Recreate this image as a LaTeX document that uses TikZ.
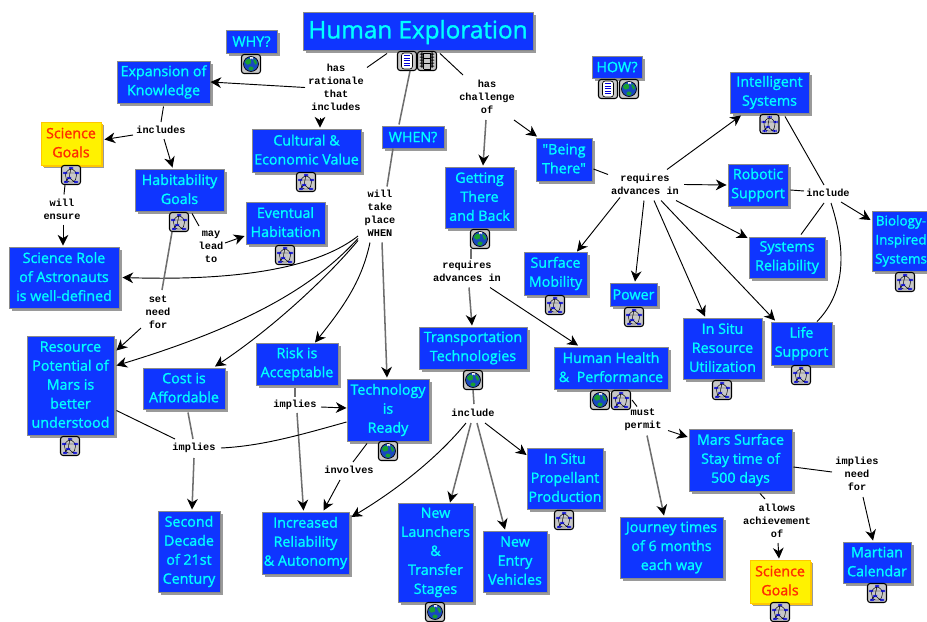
\documentclass[tikz,border=0pt]{standalone}
\usepackage{fontspec}
\setmainfont{Open Sans}[FakeBold=1.2,Ligatures=TeXOff]
\newfontfamily\lblfont{Liberation Mono}[BoldFont={Liberation Mono Bold}]
\usetikzlibrary{calc,shadows,arrows.meta}
\definecolor{cblue}{HTML}{0F35FF}
\definecolor{ccyan}{HTML}{00FFFF}
\definecolor{cedge}{HTML}{8A8A8A}
\definecolor{cshade}{HTML}{9A9A9A}
\definecolor{cgold}{HTML}{FFC800}
\definecolor{cred}{HTML}{FF2A00}
\definecolor{iconbg}{HTML}{C8C8C8}
\definecolor{linkgray}{HTML}{6E6E6E}
\definecolor{earthb}{HTML}{1848C0}
\definecolor{earthg}{HTML}{18A030}
\newcommand{\glyphGlobe}{%
  \fill[earthb] (0,0) circle (7.5);
  \fill[earthg] (-6,-4) -- (-1,-6) -- (1,-2) -- (-2,1) -- (-6,0) -- cycle;
  \fill[earthg] (2,-6) -- (6,-3) -- (6,1) -- (3,0) -- cycle;
  \fill[earthg] (-3,3) -- (2,2) -- (3,6) -- (-2,7) -- cycle;
  \fill[white] (-1,-7) rectangle (2,-5.5);
  \draw[black,line width=.5pt] (0,0) circle (7.5);}
\newcommand{\glyphConcept}{%
  \draw[black,line width=.35pt] (0,-7) -- (-6,-2) -- (-4,7) -- (4,7) -- (6,-2) -- cycle (-6,-2) -- (6,-2) (0,-7) -- (-2,3) -- (4,7) (-2,3) -- (-6,7);
  \foreach \gx/\gy in {0/-7,-6/-2,6/-2,-2/3,-5/7,5/7}{\fill[blue!85!black] (\gx-2,\gy-1.2) rectangle (\gx+2,\gy+1.2);}}
\newcommand{\glyphDoc}{%
  \draw[draw=black,fill=white,line width=.5pt] (-5.5,-8) rectangle (5.5,8);
  \foreach \gy in {-5.5,-3,-.5,2,4.5}{\draw[blue!85!black,line width=.6pt] (-3.5,\gy) -- (3,\gy);}}
\newcommand{\glyphFilm}{%
  \draw[black,line width=.4pt] (-3.5,-8) -- (-3.5,8) (3.5,-8) -- (3.5,8) (-3.5,-8) -- (3.5,-8) (-3.5,-2.5) -- (3.5,-2.5) (-3.5,2.5) -- (3.5,2.5) (-3.5,8) -- (3.5,8);
  \foreach \gy in {-7,-4,-1,2,5}{\fill[black] (-5.6,\gy-.5) rectangle (-4.6,\gy+.5);\fill[black] (4.6,\gy-.5) rectangle (5.6,\gy+.5);}}
\tikzset{
  x=.75pt,y=-.75pt,
  boxat/.style n args={4}{minimum width={(#3-#1)*.75pt},minimum height={(#4-#2)*.75pt},at={({(#1+#3)/2},{(#2+#4)/2})}},
  cbox/.style={rectangle,draw=cedge,line width=.7pt,fill=cblue,text=ccyan,align=center,inner sep=0pt,
    font=\fontsize{10.7}{14.25}\selectfont,
    execute at begin node={\rule{0pt}{.85em}},execute at end node={\rule[-.13em]{0pt}{.13em}},
    general shadow={fill=cshade,draw=none,shadow xshift=2.6pt,shadow yshift=-2.6pt}},
  gbox/.style={cbox,draw=cgold,fill=yellow,text=cred,
    general shadow={fill=cgold,draw=none,shadow xshift=1.8pt,shadow yshift=-1.8pt}},
  titlebox/.style={cbox,font=\fontsize{18.2}{22}\selectfont},
  edgebox/.style={cbox,font=\fontsize{10.1}{14.25}\selectfont},
  lbl/.style={align=center,inner sep=1pt,text=black,font=\lblfont\bfseries\fontsize{7.7}{9.75}\selectfont},
  iconf/.style={rectangle,rounded corners=2pt,draw=black,line width=.8pt,fill=iconbg,minimum size=14.25pt,inner sep=0pt},
  iglobe/.style={iconf,path picture={\begin{scope}[shift={(path picture bounding box.center)},x=.75pt,y=-.75pt]\glyphGlobe\end{scope}}},
  iconcept/.style={iconf,path picture={\begin{scope}[shift={(path picture bounding box.center)},x=.75pt,y=-.75pt]\glyphConcept\end{scope}}},
  idoc/.style={iconf,path picture={\begin{scope}[shift={(path picture bounding box.center)},x=.75pt,y=-.75pt]\glyphDoc\end{scope}}},
  ifilm/.style={iconf,path picture={\begin{scope}[shift={(path picture bounding box.center)},x=.75pt,y=-.75pt]\glyphFilm\end{scope}}},
  lnk/.style={draw=black,line width=.7pt},
  lnkg/.style={draw=linkgray,line width=1.15pt},
  tipped/.style={-{Stealth[length=8pt,width=8pt,inset=2.5pt,color=black]}},
}
\begin{document}
\begin{tikzpicture}
\useasboundingbox (0,0) rectangle (927,621);
% concept boxes
\node[titlebox,boxat={303}{12}{533}{50}] (hu) {Human Exploration};
\node[cbox,boxat={226}{30}{277}{53}] (why) {WHY?};
\node[cbox,boxat={117}{61}{210}{103}] (ex) {Expansion of\\Knowledge};
\node[gbox,boxat={41}{122}{101}{165}] (sgone) {Science\\Goals};
\node[cbox,boxat={252}{129}{361}{172}] (cu) {Cultural \&\\Economic Value};
\node[cbox,boxat={135}{169}{224}{211}] (hb) {Habitability\\Goals};
\node[cbox,boxat={246}{202}{325}{244}] (ev) {Eventual\\Habitation};
\node[cbox,boxat={9}{247}{119}{308}] (sr) {Science Role\\of Astronauts\\is well-defined};
\node[cbox,boxat={27}{336}{114}{435}] (re) {Resource\\Potential of\\Mars is\\better\\understood};
\node[cbox,boxat={143}{368}{225}{409}] (co) {Cost is\\Affordable};
\node[cbox,boxat={256}{343}{338}{385}] (ri) {Risk is\\Acceptable};
\node[cbox,boxat={158}{511}{220}{592}] (se) {Second\\Decade\\of 21st\\Century};
\node[cbox,boxat={262}{512}{349}{574}] (ic) {Increased\\Reliability\\\& Autonomy};
\node[cbox,boxat={347}{379}{429}{441}] (te) {Technology\\is\\Ready};
\node[cbox,boxat={382}{126}{444}{148}] (wh) {WHEN?};
\node[cbox,boxat={445}{167}{514}{228}] (gt) {Getting\\There\\and Back};
\node[cbox,boxat={536}{138}{592}{181}] (bt) {"Being\\There"};
\node[cbox,boxat={592}{56}{642}{78}] (how) {HOW?};
\node[cbox,boxat={730}{72}{809}{113}] (il) {Intelligent\\Systems};
\node[cbox,boxat={728}{164}{788}{206}] (ro) {Robotic\\Support};
\node[cbox,boxat={749}{237}{825}{278}] (sy) {Systems\\Reliability};
\node[edgebox,boxat={872}{211}{930}{271}] (bi) {Biology-\\Inspired\\Systems};
\node[cbox,boxat={524}{252}{587}{295}] (sm) {Surface\\Mobility};
\node[cbox,boxat={610}{283}{657}{306}] (pw) {Power};
\node[cbox,boxat={683}{318}{762}{379}] (is) {In Situ\\Resource\\Utilization};
\node[cbox,boxat={771}{322}{832}{365}] (ls) {Life\\Support};
\node[cbox,boxat={419}{327}{527}{369}] (tr) {Transportation\\Technologies};
\node[cbox,boxat={554}{347}{668}{389}] (hh) {Human Health\\\&\ \ Performance};
\node[cbox,boxat={527}{448}{603}{509}] (pp) {In Situ\\Propellant\\Production};
\node[cbox,boxat={398}{503}{473}{602}] (nl) {New\\Launchers\\\&\\Transfer\\Stages};
\node[cbox,boxat={483}{531}{547}{592}] (ne) {New\\Entry\\Vehicles};
\node[cbox,boxat={620}{517}{723}{578}] (jo) {Journey times\\of 6 months\\each way};
\node[cbox,boxat={689}{429}{792}{491}] (ma) {Mars Surface\\Stay time of\\500 days};
\node[gbox,boxat={750}{560}{810}{603}] (sgtwo) {Science\\Goals};
\node[cbox,boxat={843}{542}{911}{583}] (mc) {Martian\\Calendar};
% icons
\node[idoc] (ihdoc) at (407,61) {};
\node[ifilm] (ihfilm) at (427,61) {};
\node[iglobe] (iwhy) at (251,64) {};
\node[iconcept] (isg) at (71,175) {};
\node[iconcept] (icu) at (306,182) {};
\node[iconcept] (ihb) at (179,222) {};
\node[iconcept] (iev) at (285,255) {};
\node[iconcept] (ire) at (70,446) {};
\node[iglobe] (ite) at (388,451) {};
\node[iglobe] (igt) at (480,239) {};
\node[idoc] (ihowd) at (608,89) {};
\node[iglobe] (ihowg) at (629,89) {};
\node[iconcept] (iil) at (769.5,124) {};
\node[iconcept] (ibi) at (905,282) {};
\node[iconcept] (ism) at (555,305) {};
\node[iconcept] (ipw) at (634,317) {};
\node[iconcept] (iis) at (722,390) {};
\node[iconcept] (ils) at (801,375) {};
\node[iglobe] (itr) at (473,380) {};
\node[iglobe] (ihhg) at (600,400) {};
\node[iconcept] (ihhc) at (621,400) {};
\node[iconcept] (ipp) at (564,520) {};
\node[iglobe] (inl) at (435,612) {};
\node[iconcept] (isgt) at (780,612) {};
\node[iconcept] (imc) at (877,593) {};
% link labels
\node[lbl] (lrat) at (336,87.5) {has\\rationale\\that\\includes};
\node[lbl] (lchal) at (487,97) {has\\challenge\\of};
\node[lbl] (linc) at (161,130) {includes};
\node[lbl] (lens) at (62,209.5) {will\\ensure};
\node[lbl] (lmay) at (211,247) {may\\lead\\to};
\node[lbl] (lset) at (158,312) {set\\need\\for};
\node[lbl] (lwill) at (380,213.5) {will\\take\\place\\WHEN};
\node[lbl] (lreqa) at (467,271.5) {requires\\advances in};
\node[lbl] (lreqb) at (645,184.5) {requires\\advances in};
\node[lbl] (linca) at (828,193) {include};
\node[lbl] (lrisk) at (295,405) {implies};
\node[lbl] (limp) at (194,448) {implies};
\node[lbl] (linv) at (349,470) {involves};
\node[lbl] (lincb) at (473,413) {include};
\node[lbl] (lmust) at (643,419.5) {must\\permit};
\node[lbl] (lneed) at (857,474) {implies\\need\\for};
\node[lbl] (lall) at (777,521) {allows\\achievement\\of};
% connectors
\draw[lnk] ($(hu.south)+(-31,3)$) -- ($(lrat)+(31,-20)$);
\draw[lnk,tipped] ($(lrat)+(-31,0)$) -- (ex.east);
\draw[lnk,tipped] ($(lrat)+(-16,30)$) -- ($(cu.north)+(13.5,-1)$);
\draw[lnk] ($(hu.south)+(22,3)$) -- ($(lchal)+(-24,-22)$);
\draw[lnkg,tipped] ($(lchal)+(-1,23)$) -- ($(gt.north)+(3.5,-1)$);
\draw[lnk,tipped] ($(lchal)+(27,23)$) -- ($(bt.north)+(-27,-1)$);
\draw[lnkg] ($(ihdoc.south)+(3,0)$) -- ($(wh.north)+(-14,-1)$);
\draw[lnkg] ($(wh.south)+(-20,0)$) -- ($(lwill)+(7,-27)$);
\draw[lnk,tipped] ($(lwill)+(-22,22.5)$) .. controls (330,258) and (270,282) .. ($(sr.east)+(3,0)$);
\draw[lnk,tipped] ($(lwill)+(-22,25)$) .. controls (320,280) and (260,322) .. ($(re.east)+(2,-20)$);
\draw[lnk,tipped] ($(lwill)+(-22,27)$) .. controls (325,280) and (270,330) .. ($(co.north)+(31,-1)$);
\draw[lnk,tipped] ($(lwill)+(-10,29)$) .. controls (362,280) and (345,305) .. ($(ri.north)+(18,0)$);
\draw[lnkg,tipped] ($(lwill)+(2,29)$) -- ($(te.north)+(-1,-1)$);
\draw[lnk] ($(ex.south)+(0,3)$) -- ($(linc)+(0,-8)$);
\draw[lnk,tipped] ($(linc)+(-28,5)$) -- ($(sgone.east)+(3,-4)$);
\draw[lnk,tipped] ($(linc)+(3,9)$) -- ($(hb.north)+(-7,-1)$);
\draw[lnk] ($(isg.south)+(-6,0)$) -- ($(lens)+(2,-15)$);
\draw[lnk,tipped] ($(lens)+(1,15)$) -- ($(sr.north)+(-1,-1)$);
\draw[lnkg] ($(ihb.south)+(-7,0)$) -- ($(lset)+(4,-22)$);
\draw[lnk,tipped] ($(lset)+(-17,16)$) -- ($(re.east)+(2,-35)$);
\draw[lnk] ($(hb.south)+(12.5,2)$) -- ($(lmay)+(-12,-21)$);
\draw[lnk,tipped] ($(lmay)+(14,-4)$) -- ($(ev.west)+(-1,13)$);
\draw[lnkg] ($(ri.south)+(-2,3)$) -- ($(lrisk)+(0,-8)$);
\draw[lnk,tipped] ($(lrisk)+(26,2)$) -- ($(te.west)+(0,-2)$);
\draw[lnkg,tipped] ($(lrisk)+(2,8)$) -- ($(ic.north)+(-2,-1)$);
\draw[lnkg] ($(co.south)+(4,3)$) -- ($(limp)+(-1,-9)$);
\draw[lnk] ($(re.east)+(2,25)$) -- ($(limp)+(-19,-9)$);
\draw[lnk] ($(te.west)+(0,12)$) .. controls (300,435) and (262,446) .. ($(limp)+(27,0)$);
\draw[lnkg,tipped] ($(limp)+(0,10)$) -- ($(se.north)+(3,-1)$);
\draw[lnk] ($(te.south)+(-21,2)$) -- ($(linv)+(4,-8)$);
\draw[lnk,tipped] ($(linv)+(-9,10)$) -- ($(ic.north)+(18,-1)$);
\draw[lnkg] ($(igt.south)+(-9,0)$) -- ($(lreqa)+(4,-13)$);
\draw[lnkg,tipped] ($(lreqa)+(2,16)$) -- ($(tr.north)+(-1,-1)$);
\draw[lnk,tipped] ($(lreqa)+(23,16)$) -- ($(hh.north)+(-33,-1)$);
\draw[lnkg] (itr.south) -- ($(lincb)+(1,-9)$);
\draw[lnk,tipped] ($(lincb)+(-7,10)$) .. controls (440,455) and (400,488) .. ($(ic.east)+(2,-26)$);
\draw[lnkg,tipped] ($(lincb)+(-2,10)$) -- ($(nl.north)+(14.5,0)$);
\draw[lnkg,tipped] ($(lincb)+(4,10)$) -- ($(ne.north)+(-10,-1)$);
\draw[lnk,tipped] ($(lincb)+(12,10)$) -- ($(pp.west)+(0,-23.5)$);
\draw[lnk] ($(bt.east)+(1,9.5)$) -- ($(lreqb)+(-37,-10)$);
\draw[lnk,tipped] ($(lreqb)+(22,-15)$) -- ($(il.south)+(-28.5,2)$);
\draw[lnk,tipped] ($(lreqb)+(39,0)$) -- ($(ro.west)+(-1,0)$);
\draw[lnk,tipped] ($(lreqb)+(31,16)$) -- ($(sy.west)+(-1,-19.5)$);
\draw[lnk,tipped] ($(lreqb)+(-25,13)$) -- ($(sm.north)+(21.5,0)$);
\draw[lnk,tipped] ($(lreqb)+(-1,16)$) -- ($(pw.north)+(1.5,-1)$);
\draw[lnk,tipped] ($(lreqb)+(9,16)$) -- ($(is.north)+(-17.5,-1)$);
\draw[lnk,tipped] ($(lreqb)+(16,16)$) -- ($(ls.north)+(-26.5,-1)$);
\draw[lnk] ($(il.south)+(15.5,3)$) -- ($(linca)+(-4,-8)$);
\draw[lnk] ($(ro.east)+(2,5)$) -- ($(linca)+(-24,-2)$);
\draw[lnk] ($(sy.north)+(14,-2)$) -- ($(linca)+(-4,10)$);
\draw[lnk] ($(ls.north)+(15.5,0)$) .. controls (840,298) and (850,262) .. ($(linca)+(3,10)$);
\draw[lnk,tipped] ($(linca)+(13,9)$) -- ($(bi.west)+(-1,-21)$);
\draw[lnk] ($(ihhc.east)+(1,0)$) -- ($(lmust)+(-6,-13)$);
\draw[lnk,tipped] ($(lmust)+(25,11)$) -- ($(ma.west)+(-1,-23)$);
\draw[lnkg,tipped] ($(lmust)+(4,16)$) -- ($(jo.north)+(-7.5,-1)$);
\draw[lnk] ($(ma.east)+(1,7)$) -- ($(lneed)+(-25,-2)$);
\draw[lnk,tipped] ($(lneed)+(6,23)$) -- ($(mc.north)+(-4,-1)$);
\draw[lnk] ($(ma.south)+(19.5,2)$) -- ($(lall)+(-12,-22)$);
\draw[lnk,tipped] ($(lall)+(1,22)$) -- ($(sgtwo.north)+(-1,-1)$);
\end{tikzpicture}
\end{document}
